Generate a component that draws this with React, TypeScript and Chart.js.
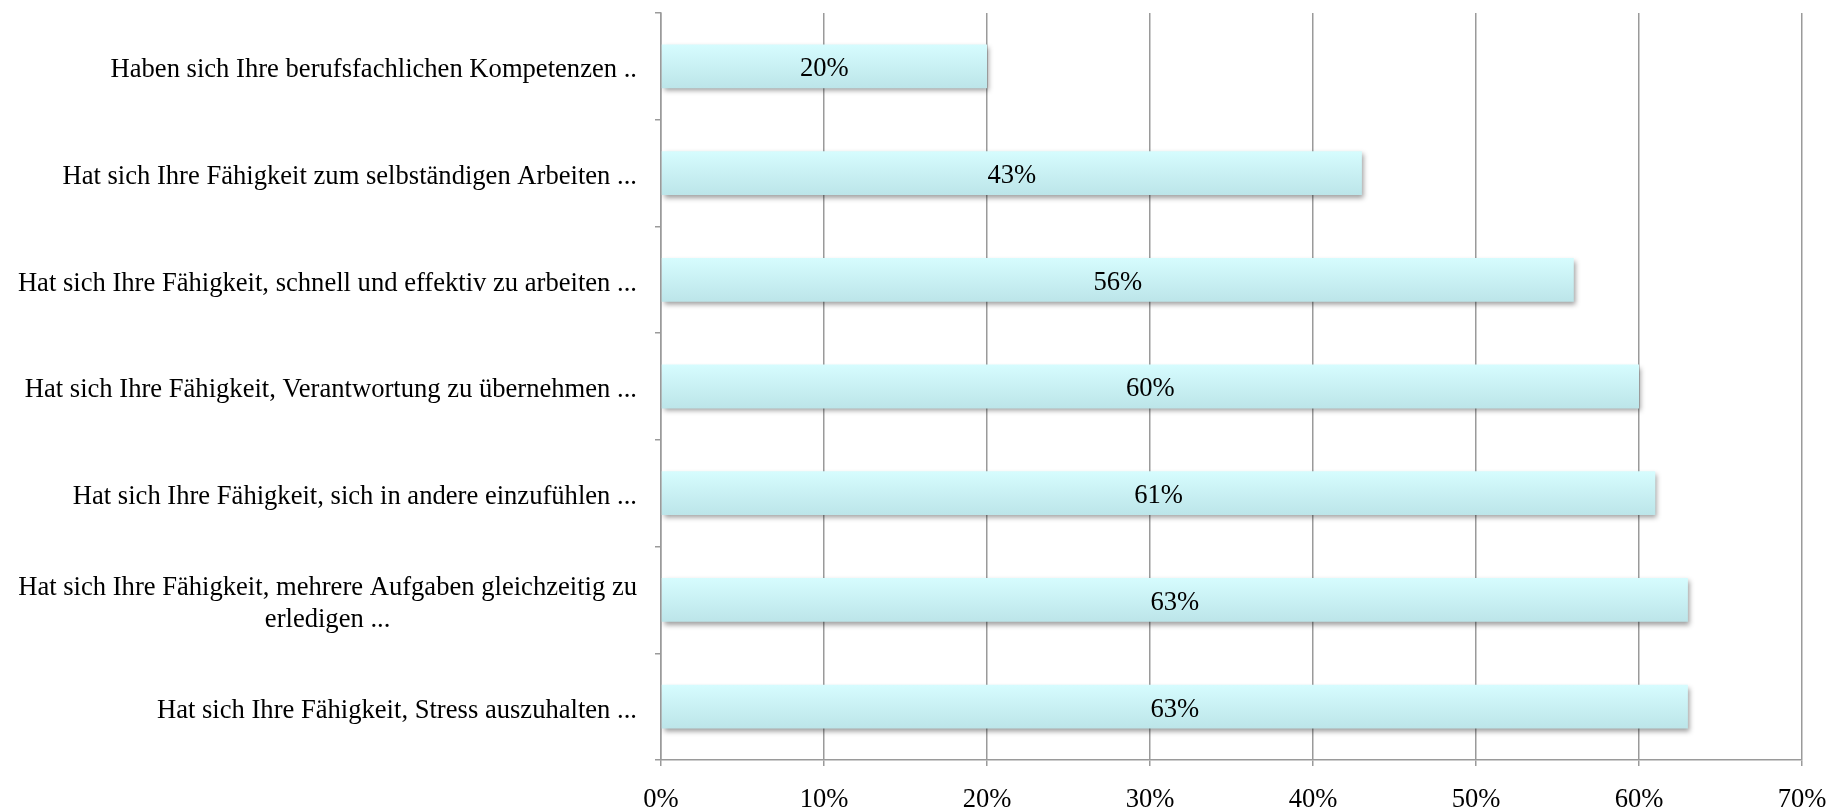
import React, { useEffect, useRef } from "react";
import { Chart, registerables } from "chart.js";

Chart.register(...registerables);

// Survey items, top to bottom; wrapped items are given as separate lines.
const categories: string[][] = [
  ["Haben sich Ihre berufsfachlichen Kompetenzen .."],
  ["Hat sich Ihre Fähigkeit zum selbständigen Arbeiten ..."],
  ["Hat sich Ihre Fähigkeit, schnell und effektiv zu arbeiten ..."],
  ["Hat sich Ihre Fähigkeit, Verantwortung zu übernehmen ..."],
  ["Hat sich Ihre Fähigkeit, sich in andere einzufühlen ..."],
  ["Hat sich Ihre Fähigkeit, mehrere Aufgaben gleichzeitig zu", "erledigen ..."],
  ["Hat sich Ihre Fähigkeit, Stress auszuhalten ..."],
];

// Share of respondents, in percent.
const values: number[] = [20, 43, 56, 60, 61, 63, 63];

// Value axis range and step, in percent.
const axisMin = 0;
const axisMax = 70;
const axisStep = 10;

const FONT_FAMILY = '"Liberation Serif", "Times New Roman", serif';
const FONT_SIZE = 26.6;
const LINE_HEIGHT = 32;
const GRID_COLOR = "#9a9a9a";
const LABEL_RIGHT = 637;
const PLOT_LEFT = 661;

// Vertical cyan gradient per bar plus a soft drop shadow.
const barStylePlugin = {
  id: "barStyle",
  beforeDatasetDraw(chart: any) {
    const ctx = chart.ctx;
    const meta = chart.getDatasetMeta(0);
    meta.data.forEach((el: any) => {
      const top = el.y - el.height / 2;
      const grad = ctx.createLinearGradient(0, top, 0, top + el.height);
      grad.addColorStop(0, "#d6fcfe");
      grad.addColorStop(1, "#bce5e9");
      el.options = { ...el.options, backgroundColor: grad };
    });
    ctx.save();
    ctx.shadowColor = "rgba(0,0,0,0.38)";
    ctx.shadowBlur = 5;
    ctx.shadowOffsetX = 2;
    ctx.shadowOffsetY = 3;
  },
  afterDatasetDraw(chart: any) {
    chart.ctx.restore();
  },
};

// Percentage written in the middle of each bar.
const valueLabelPlugin = {
  id: "valueLabels",
  afterDatasetsDraw(chart: any) {
    const ctx = chart.ctx;
    const meta = chart.getDatasetMeta(0);
    ctx.save();
    ctx.font = `${FONT_SIZE}px ${FONT_FAMILY}`;
    ctx.fillStyle = "#000";
    ctx.textAlign = "center";
    ctx.textBaseline = "middle";
    meta.data.forEach((el: any, i: number) => {
      const v = chart.data.datasets[0].data[i];
      ctx.fillText(`${v}%`, (el.base + el.x) / 2, el.y + 3);
    });
    ctx.restore();
  },
};

// Category labels: right-aligned block, wrapped lines centred within it.
const categoryLabelPlugin = {
  id: "categoryLabels",
  afterDraw(chart: any) {
    const ctx = chart.ctx;
    const yScale = chart.scales.y;
    ctx.save();
    ctx.font = `${FONT_SIZE}px ${FONT_FAMILY}`;
    ctx.fillStyle = "#000";
    ctx.textAlign = "center";
    ctx.textBaseline = "middle";
    categories.forEach((lines, i) => {
      const y = yScale.getPixelForTick(i);
      const widest = Math.max(...lines.map((l) => ctx.measureText(l).width));
      const cx = LABEL_RIGHT - widest / 2;
      const y0 = y - ((lines.length - 1) * LINE_HEIGHT) / 2;
      lines.forEach((line, j) => {
        ctx.fillText(line, cx, y0 + j * LINE_HEIGHT + 4);
      });
    });
    ctx.restore();
  },
};

export default function App() {
  const canvasRef = useRef<HTMLCanvasElement | null>(null);

  useEffect(() => {
    if (!canvasRef.current) return;
    const chart = new Chart(canvasRef.current, {
      type: "bar",
      data: {
        labels: categories.map((c) => c.join(" ")),
        datasets: [
          {
            data: values,
            backgroundColor: "#c9f1f4",
            borderWidth: 0,
            barPercentage: 0.41,
            categoryPercentage: 1,
          },
        ],
      },
      options: {
        indexAxis: "y",
        responsive: false,
        animation: false,
        devicePixelRatio: 1,
        layout: { padding: { top: 13, right: 44, bottom: 0, left: 0 } },
        plugins: {
          legend: { display: false },
          tooltip: { enabled: false },
        },
        scales: {
          x: {
            min: axisMin,
            max: axisMax,
            border: { display: true, color: GRID_COLOR, width: 1.5 },
            grid: {
              color: GRID_COLOR,
              lineWidth: 1.5,
              drawTicks: true,
              tickLength: 6,
            },
            ticks: {
              stepSize: axisStep,
              padding: 18,
              color: "#000",
              font: { family: FONT_FAMILY, size: FONT_SIZE },
              callback: (v: any) => `${v}%`,
            },
            afterFit: (scale: any) => {
              scale.height = 50;
            },
          },
          y: {
            border: { display: true, color: GRID_COLOR, width: 1.5 },
            grid: {
              color: GRID_COLOR,
              lineWidth: 1.5,
              drawOnChartArea: false,
              drawTicks: true,
              tickLength: 6,
            },
            ticks: { display: false },
            afterFit: (scale: any) => {
              scale.width = PLOT_LEFT;
            },
          },
        },
      },
      plugins: [barStylePlugin, valueLabelPlugin, categoryLabelPlugin],
    });
    return () => chart.destroy();
  }, []);

  return (
    <div style={{ position: "fixed", left: 0, top: 0, width: 1846, height: 810, background: "#fff" }}>
      <canvas ref={canvasRef} width={1846} height={810} style={{ display: "block" }} />
    </div>
  );
}
